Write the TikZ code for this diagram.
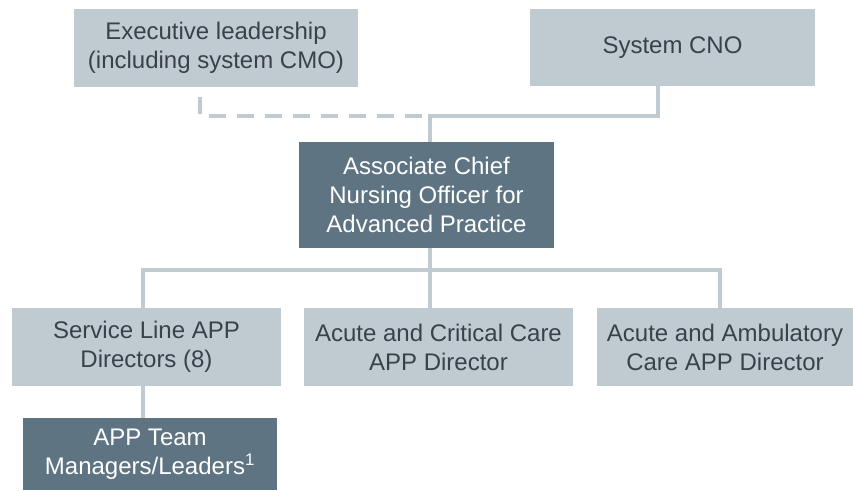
\documentclass[tikz,border=0pt]{standalone}
\usepackage{fontspec}
\setmainfont{Liberation Sans}
\usetikzlibrary{
  positioning,
}
\definecolor{boxLight}{HTML}{C0CAD1}
\definecolor{boxDark}{HTML}{5F7482}
\definecolor{textDark}{HTML}{3A4149}
\tikzset{
  org box/.style = {
    inner sep=0pt,
    align=center,
    font=\fontsize{18}{21.75}\selectfont
  },
  light box/.style = {
    org box,
    fill=boxLight,
    text=textDark
  },
  dark box/.style = {
    org box,
    fill=boxDark,
    text=white
  },
  link/.style = {
    draw=boxLight,
    line width=3pt
  },
  dashed link/.style = {
    link,
    dash pattern=on 12.75pt off 8.25pt,
    dash phase=13.5pt
  },
}

\begin{document}
\begin{tikzpicture}[x=0.75pt, y=-0.75pt]
  \useasboundingbox (0,0) rectangle (853,491);
  %% upper nodes
  \node (exec) [light box, minimum width=213pt, minimum height=58.5pt] at (216,48)
      {Executive leadership\\(including system CMO)};
  \node (cno) [light box, minimum width=213.75pt, minimum height=57.75pt] at (672.5,47.5)
      {System CNO};
  \node (acno) [dark box, minimum width=191.25pt, minimum height=79.5pt] at (426.5,195)
      {Associate Chief\\Nursing Officer for\\Advanced Practice};
  %% lower nodes
  \node (sld) [light box, minimum width=201.75pt, minimum height=58.5pt] at (146.5,347)
      {Service Line APP\\Directors (8)};
  \node (acc) [light box, minimum width=201.75pt, minimum height=58.5pt] at (438.5,347)
      {Acute and Critical Care\\APP Director};
  \node (aac) [light box, minimum width=192pt, minimum height=58.5pt] at (725,347)
      {Acute and Ambulatory\\Care APP Director};
  \node (team) [dark box, minimum width=190.5pt, minimum height=54pt] at (150,454)
      {APP Team\\Managers/Leaders\textsuperscript{1}};
  %% bus points
  \coordinate (top bus) at (430,116);
  \coordinate (low bus) at (430,270);
  %% connectors
  \draw[link] (cno.south -| 658,0) |- (top bus) -- (acno.north -| top bus);
  \draw[dashed link] (exec.south -| 200,0) |- (top bus);
  \draw[link] (acno.south -| low bus) -- (low bus);
  \draw[link] (sld.north -| 143,0) |- (low bus) -| (aac.north -| 720,0);
  \draw[link] (low bus) -- (acc.north -| low bus);
  \draw[link] (sld.south -| 143,0) -- (team.north -| 143,0);
\end{tikzpicture}
\end{document}
